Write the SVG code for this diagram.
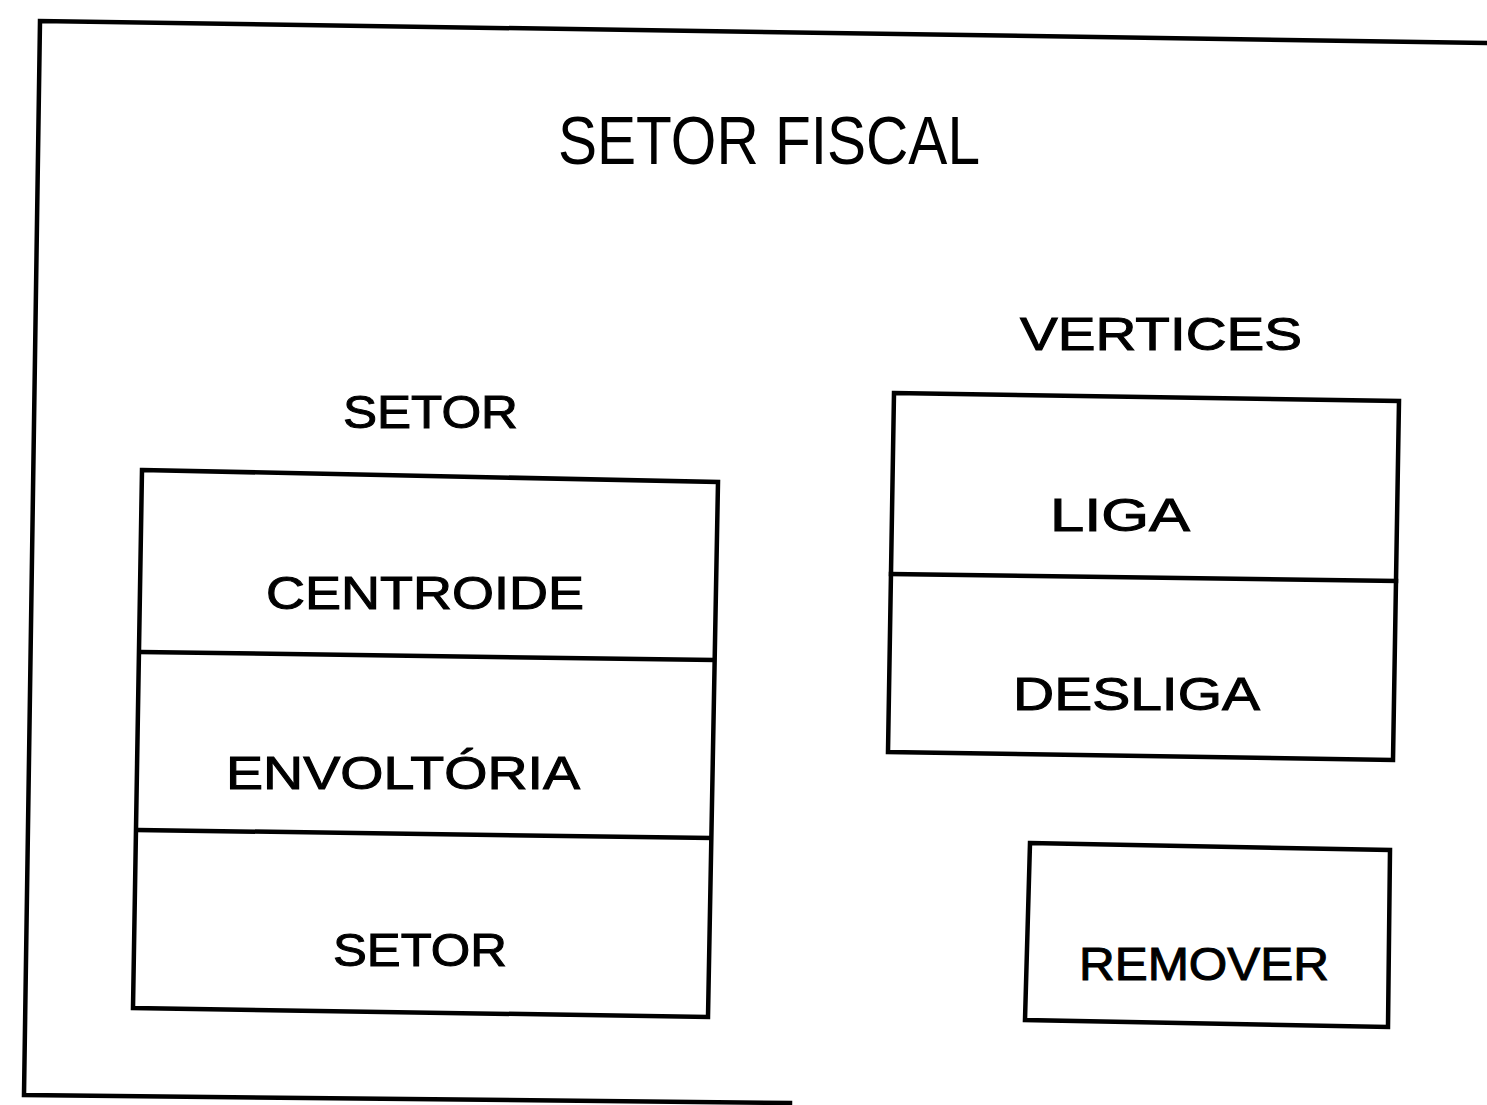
<svg xmlns="http://www.w3.org/2000/svg" width="1487" height="1105" viewBox="0 0 1487 1105">
<style>
.ln{fill:none;stroke:#000;stroke-width:4.5;stroke-linejoin:miter;stroke-linecap:square}
.t{font-family:"Liberation Sans",Arial,sans-serif;font-size:46px;fill:#000;stroke:#000;stroke-width:1}
.title{font-family:"Liberation Sans",Arial,sans-serif;font-size:68px;fill:#000}
</style>
<rect width="1487" height="1105" fill="#fff"/>
<g id="frame">
<polyline class="ln" points="1487,43 40,21 24,1095 790,1103"/>
<text class="title" x="558" y="164" textLength="422" lengthAdjust="spacingAndGlyphs">SETOR FISCAL</text>
</g>
<g id="setor-group">
<text class="t" x="343" y="428" textLength="175" lengthAdjust="spacingAndGlyphs">SETOR</text>
<polygon class="ln" points="142,470 718,482 708,1017 133,1008"/>
<g id="centroide">
<text class="t" x="266" y="609" textLength="318" lengthAdjust="spacingAndGlyphs">CENTROIDE</text>
</g>
<g id="envoltoria">
<line class="ln" x1="141" y1="652" x2="713" y2="660"/>
<text class="t" x="226" y="789" textLength="354" lengthAdjust="spacingAndGlyphs">ENVOLTÓRIA</text>
</g>
<g id="setor">
<line class="ln" x1="138" y1="830" x2="710" y2="838"/>
<text class="t" x="333" y="966" textLength="174" lengthAdjust="spacingAndGlyphs">SETOR</text>
</g>
</g>
<g id="vertices-group">
<text class="t" x="1020" y="350" textLength="282" lengthAdjust="spacingAndGlyphs">VERTICES</text>
<polygon class="ln" points="894,393 1399,401 1393,760 888,752"/>
<g id="liga">
<text class="t" x="1050" y="531" textLength="140" lengthAdjust="spacingAndGlyphs">LIGA</text>
</g>
<g id="desliga">
<line class="ln" x1="891" y1="574" x2="1396" y2="581"/>
<text class="t" x="1013" y="710" textLength="247" lengthAdjust="spacingAndGlyphs">DESLIGA</text>
</g>
</g>
<g id="remover">
<polygon class="ln" points="1030,843 1390,850 1388,1027 1025,1020"/>
<text class="t" x="1079" y="980" textLength="250" lengthAdjust="spacingAndGlyphs">REMOVER</text>
</g>
<g id="connectors"></g>
</svg>
